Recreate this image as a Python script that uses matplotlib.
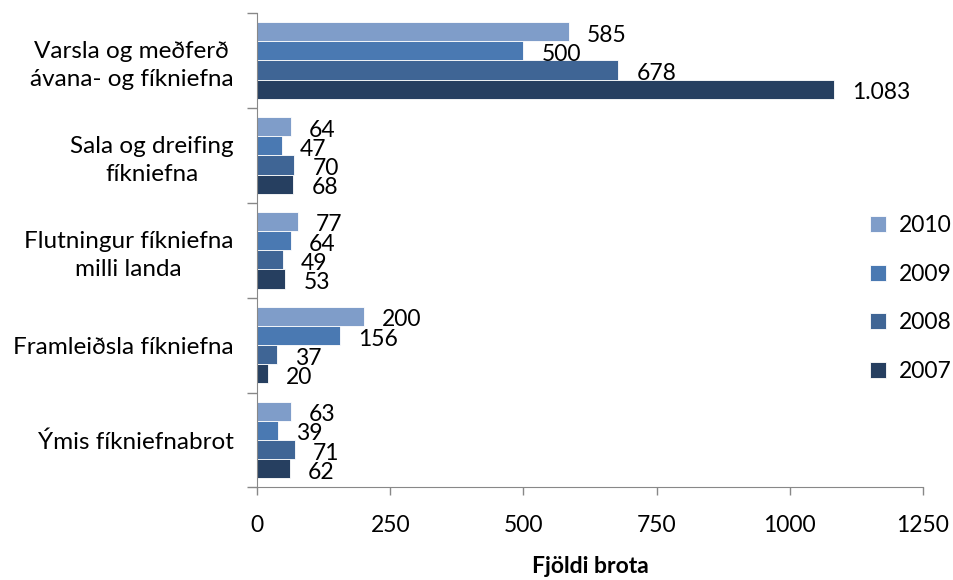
import matplotlib
matplotlib.use("Agg")
import matplotlib.pyplot as plt
import numpy as np

categories = ["Varsla og meðferð\návana- og fíkniefna",
              "Sala og dreifing\nfíkniefna",
              "Flutningur fíkniefna\nmilli landa",
              "Framleiðsla fíkniefna",
              "Ýmis fíkniefnabrot"]
years = ["2010", "2009", "2008", "2007"]
v2010 = [585, 64, 77, 200, 63]
v2009 = [500, 47, 64, 156, 39]
v2008 = [678, 70, 49, 37, 71]
v2007 = [1083, 68, 53, 20, 62]
series = [v2010, v2009, v2008, v2007]
colors = ["#7f9dc9", "#4a79b2", "#3f6595", "#263f60"]
xticks = [0, 250, 500, 750, 1000, 1250]

def fmt(v):
    return f"{v:,}".replace(",", ".")

plt.rcParams['font.family'] = ['Lato', 'DejaVu Sans']
fig = plt.figure(figsize=(9.54, 5.8), dpi=100)
ax = fig.add_axes([0.2694, 0.1595, 0.6981, 0.8181])

n = len(categories)
centers = np.arange(n)[::-1].astype(float)  # first category on top
bh = 0.202
for i, (vals, col, yr) in enumerate(zip(series, colors, years)):
    ys = centers + (1.5 - i) * bh
    ax.barh(ys, vals, height=bh, color=col, edgecolor='white', linewidth=0.6, label=yr)
    for y, v in zip(ys, vals):
        ax.annotate(fmt(v), (v, y), xytext=(13, -2.5), textcoords='offset points',
                    ha='left', va='center', fontsize=16.5, color='black')

ax.set_xlim(0, 1250)
ax.set_ylim(-0.5, n - 0.5)
ax.set_xticks(xticks)
ax.set_xticklabels([str(t) for t in xticks], fontsize=16.5)
ax.tick_params(axis='x', direction='out', length=6, width=1, color='#888888', pad=14)
ax.set_yticks(centers)
ax.set_yticklabels(categories, fontsize=17.5, multialignment='center', linespacing=1.4)
ax.tick_params(axis='y', which='major', length=0, pad=17)
ax.set_yticks(np.arange(n + 1) - 0.5, minor=True)
ax.tick_params(axis='y', which='minor', direction='out', length=7, width=1, color='#888888')
for s in ['top', 'right']:
    ax.spines[s].set_visible(False)
for s in ['left', 'bottom']:
    ax.spines[s].set_color('#888888')
ax.set_xlabel("Fjöldi brota", fontsize=16.5, fontweight='bold', labelpad=14)

fig.legend(loc='center left', bbox_to_anchor=(0.912, 0.485), frameon=False, fontsize=16.5,
           handlelength=0.7, handleheight=0.7, handletextpad=0.55, labelspacing=1.2,
           borderpad=0, borderaxespad=0)

fig.savefig("out.png", dpi=100)
